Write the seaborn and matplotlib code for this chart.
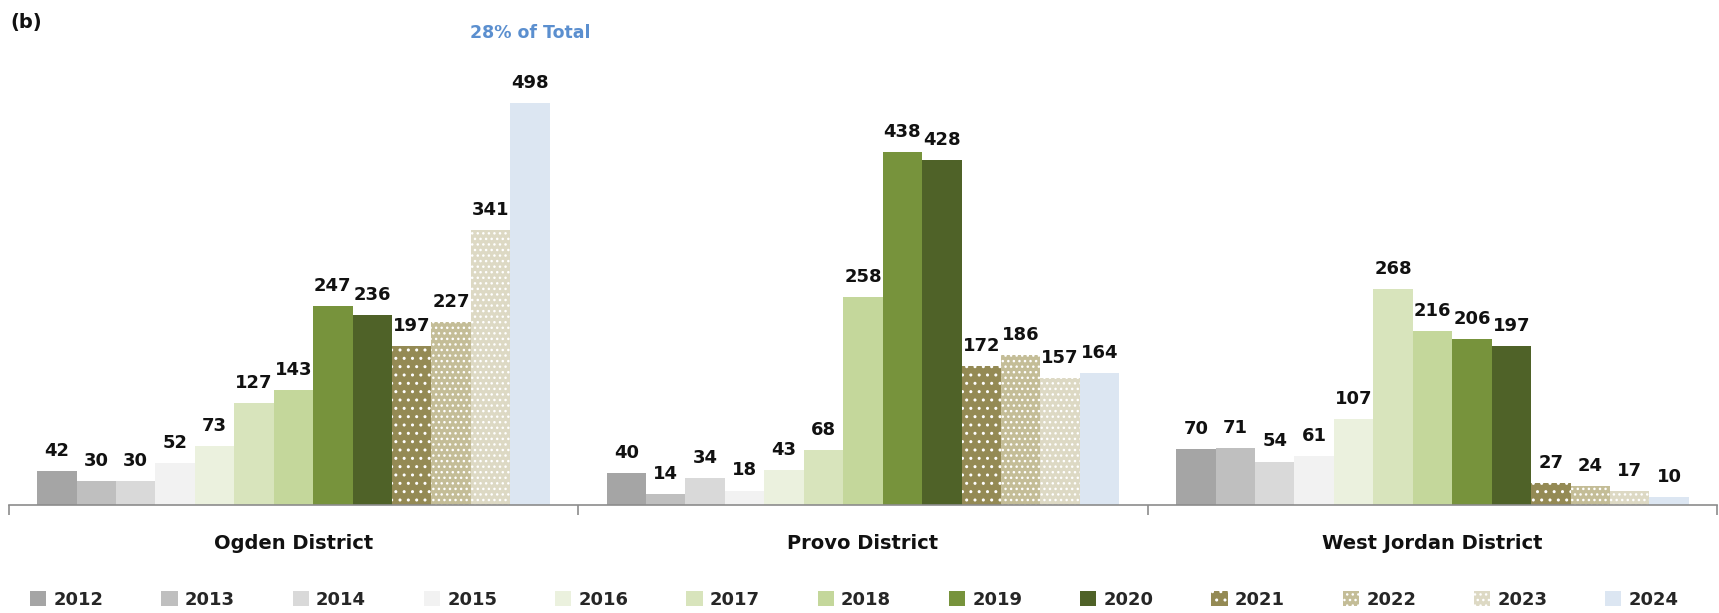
import matplotlib
matplotlib.use("Agg")
import matplotlib.pyplot as plt
import seaborn as sns
import pandas as pd

districts = ["Ogden District", "Provo District", "West Jordan District"]
years = ["2012", "2013", "2014", "2015", "2016", "2017", "2018",
         "2019", "2020", "2021", "2022", "2023", "2024"]
ogden = [42, 30, 30, 52, 73, 127, 143, 247, 236, 197, 227, 341, 498]
provo = [40, 14, 34, 18, 43, 68, 258, 438, 428, 172, 186, 157, 164]
west_jordan = [70, 71, 54, 61, 107, 268, 216, 206, 197, 27, 24, 17, 10]
colors = ["#a5a5a5", "#bfbfbf", "#d9d9d9", "#f2f2f2", "#ebf1de", "#d8e4bc",
          "#c4d79b", "#77933c", "#4f6228", "#948a54", "#c4bd97", "#ddd9c4",
          "#dce6f2"]
dotted = {"2021": "..", "2022": "...", "2023": "..."}

rows = []
for d, vals in zip(districts, [ogden, provo, west_jordan]):
    for y, v in zip(years, vals):
        rows.append({"district": d, "year": y, "value": v})
df = pd.DataFrame(rows)

sns.set_theme(style="white")
plt.rcParams["font.family"] = ["DejaVu Sans"]
plt.rcParams["hatch.linewidth"] = 1.0

fig = plt.figure(figsize=(17.19, 6.13), dpi=100)
ax = fig.add_axes([0.005, 0.176, 0.994, 0.80])

sns.barplot(data=df, x="district", y="value", hue="year", order=districts,
            hue_order=years, palette=colors, width=0.9, gap=0, saturation=1,
            errorbar=None, ax=ax, legend=False)

for cont, yr in zip(ax.containers, years):
    for p in cont:
        p.set_linewidth(0)
        if yr in dotted:
            p.set_hatch(dotted[yr])
            p.set_edgecolor("white")
    ax.bar_label(cont, fmt="%d", padding=8, fontsize=13,
                 fontweight="bold", color="#111111")

ax.set_ylim(0, 608)
ax.set_xlim(-0.5, 2.5)
ax.set_yticks([])
ax.set_xlabel("")
ax.set_ylabel("")
for s in ["top", "right", "left"]:
    ax.spines[s].set_visible(False)
ax.spines["bottom"].set_color("#8c8c8c")
ax.spines["bottom"].set_linewidth(1.2)
ax.set_xticks([-0.5, 0.5, 1.5, 2.5], minor=True)
ax.tick_params(axis="x", which="minor", length=7, color="#8c8c8c",
               width=1.2, bottom=True, direction="out")
ax.tick_params(axis="x", which="major", length=0, pad=21)
for lbl in ax.get_xticklabels():
    lbl.set_fontsize(14)
    lbl.set_fontweight("bold")
    lbl.set_color("#111111")

# share annotation above the tallest Ogden bar
ogden_last = ax.containers[-1][0]
ax.text(ogden_last.get_x() + ogden_last.get_width() / 2, 0.982,
        "28% of Total", transform=ax.get_xaxis_transform(),
        ha="center", va="top", fontsize=12.5, fontweight="bold",
        color="#5b8fcf")

fig.text(0.006, 0.955, "(b)", fontsize=14, fontweight="bold", color="#111111")

handles = []
for yr, c in zip(years, colors):
    h = plt.Rectangle((0, 0), 1, 1, facecolor=c, linewidth=0,
                      edgecolor="white" if yr in dotted else c,
                      hatch=dotted.get(yr))
    handles.append(h)
fig.legend(handles, years, loc="center", bbox_to_anchor=(0.497, 0.022),
           ncol=13, frameon=False, handlelength=0.9, handleheight=0.9,
           handletextpad=0.4, columnspacing=3.2,
           prop={"size": 13, "weight": "bold"})

fig.savefig("out.png", dpi=100, facecolor="white")
